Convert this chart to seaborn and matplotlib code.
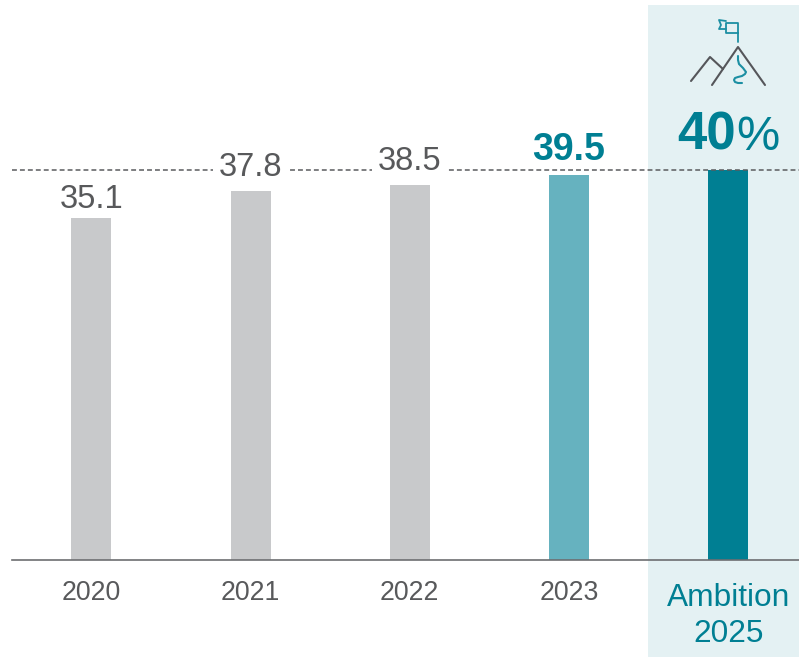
import matplotlib
matplotlib.use("Agg")
import matplotlib.pyplot as plt
from matplotlib.patches import Rectangle
from matplotlib.lines import Line2D
from matplotlib.transforms import blended_transform_factory, ScaledTranslation
import seaborn as sns
import pandas as pd

sns.set_theme(style="white")
plt.rcParams["font.family"] = ["Liberation Sans", "DejaVu Sans"]

years = ["2020", "2021", "2022", "2023", "Ambition\n2025"]
values = [35.1, 37.8, 38.5, 39.5, 40.0]
value_labels = ["35.1", "37.8", "38.5", "39.5"]
bar_colors = ["#C8C9CB", "#C8C9CB", "#C8C9CB", "#66B2BF", "#007F93"]
ambition = 40.0

TEAL = "#007F93"
SLATE = "#58595B"
PANEL = "#E4F1F3"
W, H = 799, 657

fig = plt.figure(figsize=(W / 100, H / 100), dpi=100, facecolor="white")
ax = fig.add_axes([12 / W, (H - 559.5) / H, 787 / W, 554.5 / H])

frame = pd.DataFrame({"year": years, "value": values})
sns.barplot(data=frame, x="year", y="value", hue="year", palette=bar_colors,
            legend=False, width=0.251, saturation=1, linewidth=0, ax=ax, zorder=3)

ax.set_xlim(-0.498, 4.444)
ax.set_ylim(0, 554.5 / 9.7375)
ax.set_xlabel("")
ax.set_ylabel("")
ax.set_yticks([])
ax.patch.set_alpha(0)
sns.despine(ax=ax, left=True)
ax.spines["bottom"].set_color("#6D6E71")
ax.spines["bottom"].set_linewidth(1.2)
ax.spines["bottom"].set_zorder(5)

# Shaded column behind the ambition year, reaching below the axis
xpanel = blended_transform_factory(fig.transFigure, fig.transFigure)
fig.patches.append(Rectangle((648 / W, 0), 151 / W, 652 / H, transform=xpanel,
                             facecolor=PANEL, edgecolor="none", zorder=-5))

ax.axhline(ambition, color="#5A5B5E", lw=1.1, ls=(0, (3.2, 2.0)), zorder=4, clip_on=False)

# Tick labels
ax.set_xticks(range(5))
ax.set_xticklabels([])
ax.tick_params(axis="x", length=0)
xtrans = ax.get_xaxis_transform()
for i, year in enumerate(years[:4]):
    ax.text(i, 0, year, transform=xtrans + ScaledTranslation(0, -41 / 100, fig.dpi_scale_trans),
            ha="center", va="baseline", fontsize=19.2, color=SLATE)
ax.text(4, 0, years[4], transform=xtrans + ScaledTranslation(0, -82 / 100, fig.dpi_scale_trans),
        ha="center", va="baseline", fontsize=22.8, color=TEAL, linespacing=1.24)

# Value labels above the bars; the two that interrupt the dashed line sit on a white box
label_offsets = [10, 15, 15, 15]
boxed = [False, True, True, False]
for i, label in enumerate(value_labels):
    bold = i == 3
    box = dict(facecolor="white", edgecolor="none", pad=4) if boxed[i] else None
    ax.annotate(label, (i, values[i]), xytext=(0, label_offsets[i]), textcoords="offset pixels",
                ha="center", va="baseline", fontsize=27 if bold else 23.5,
                fontweight="bold" if bold else "normal",
                color=TEAL if bold else SLATE, bbox=box, zorder=6)

# Ambition figure: heavy digits with a lighter percent sign
def px(x, y):
    return x / W, 1 - y / H

fx, fy = px(707, 150)
fig.text(fx, fy, "40", ha="center", va="baseline", fontsize=38, fontweight="bold", color=TEAL)
fx, fy = px(758, 150)
fig.text(fx, fy, "%", ha="center", va="baseline", fontsize=35, color=TEAL)

# Mountain and flag pictogram
def stroke(points, color, lw=1.5):
    xs, ys = zip(*[px(*p) for p in points])
    fig.add_artist(Line2D(xs, ys, color=color, lw=lw, solid_joinstyle="round",
                          solid_capstyle="round", transform=fig.transFigure))

dark = "#55565A"
flag = "#1C8FA3"
stroke([(691, 81), (710, 57), (723, 69)], dark)
stroke([(712, 85), (738, 47), (765, 85)], dark)
stroke([(738, 42), (738, 23), (726, 23), (726, 33), (738, 33)], flag, 1.3)
stroke([(726, 21), (719, 20), (721, 25), (719, 29), (726, 29)], flag, 1.3)

# Winding trail on the main peak
stroke([(738, 56), (738, 60), (739, 64), (743, 68), (746, 72), (745, 74), (742, 76),
        (738, 77), (735, 78), (734, 80), (735, 82), (738, 83), (742, 83)], flag)

fig.savefig("out.png", dpi=100)
